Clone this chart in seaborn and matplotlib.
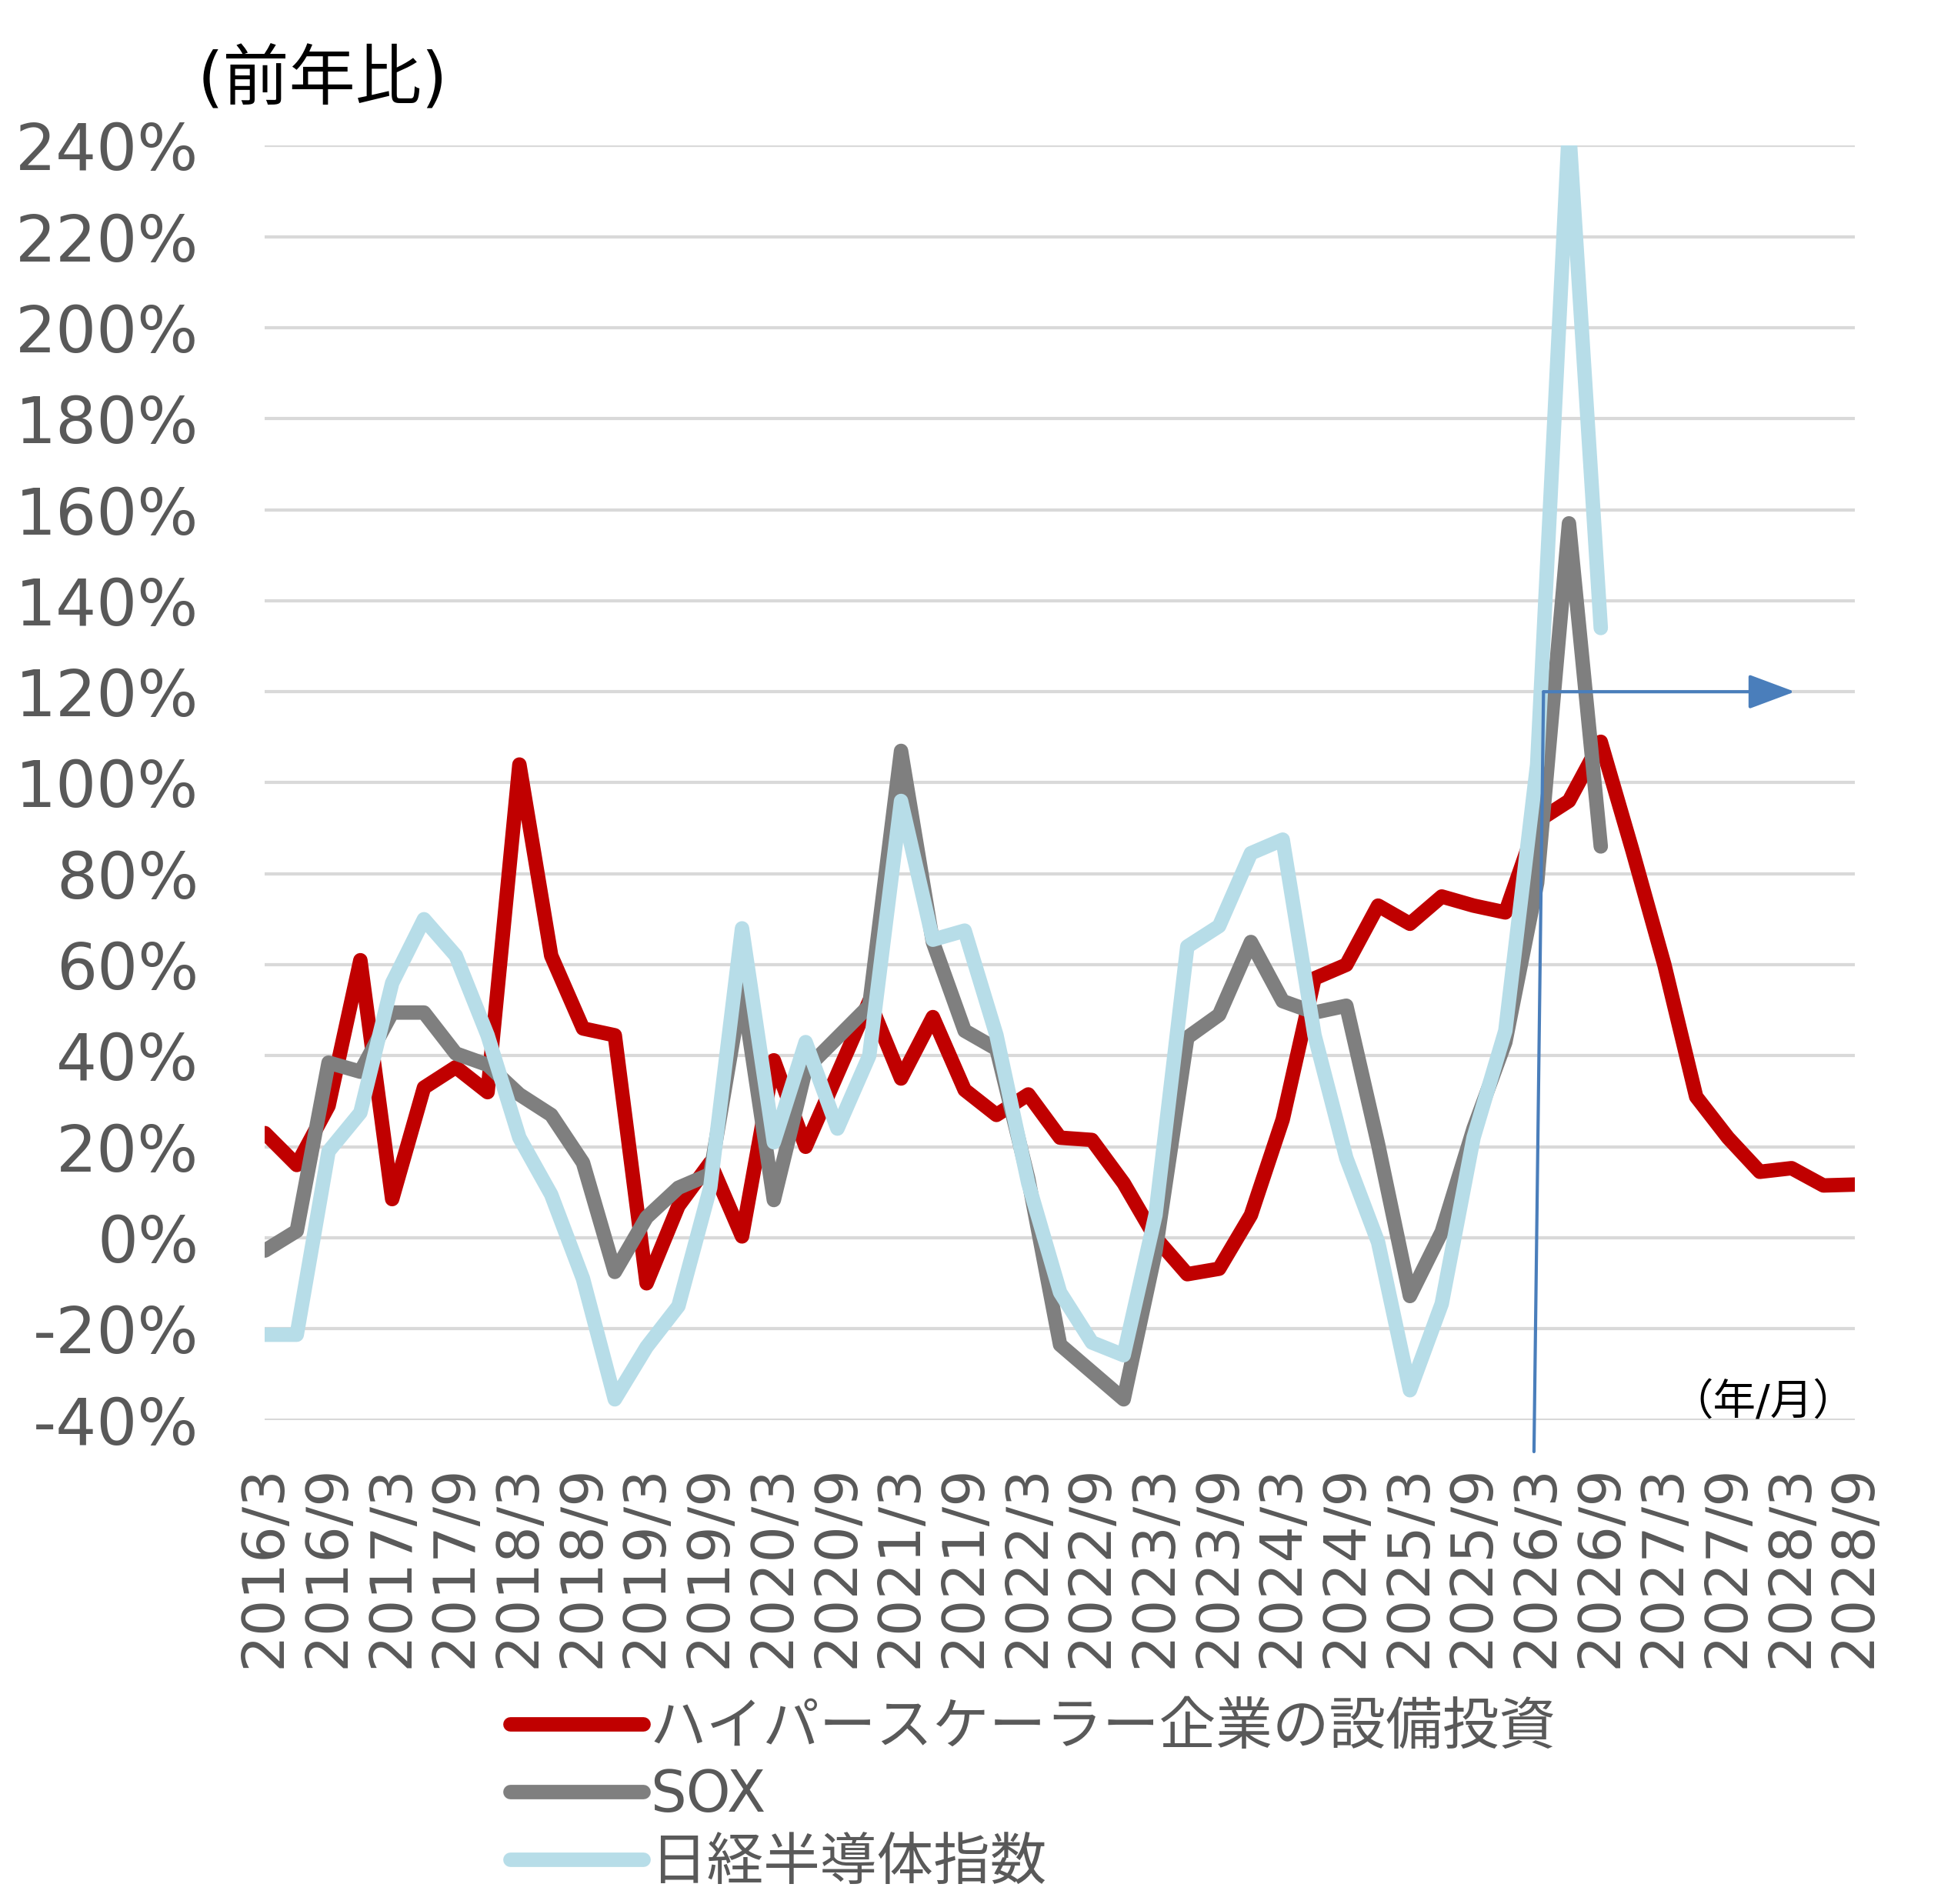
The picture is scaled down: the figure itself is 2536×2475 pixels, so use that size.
import numpy as np
import pandas as pd
import matplotlib
matplotlib.use("Agg")
import matplotlib.pyplot as plt
import seaborn as sns

# ---------------- data ----------------
tick_labels = [f"{y}/{m}" for y in range(2016, 2029) for m in (3, 9)]
quarters = list(range(51))  # quarterly from 2016/3 to 2028/9

capex = [23, 16, 29, 61, 8.5, 33, 37.5, 32, 104, 62, 46, 44.5, -10, 7, 16.5, 0.3,
         39, 20, 36, 52, 35, 48.5, 32.5, 27, 31.5, 22, 21.5, 12, 0, -8, -6.8, 5,
         26, 57, 60, 73, 69, 75, 73, 71.5, 91.5, 96, 109, 85, 60, 31, 22, 14.5,
         15.3, 11.5, 11.7]
sox = [-2.8, 1.5, 38.5, 36.5, 49.5, 49.5, 40.5, 38, 31.5, 27, 16.5, -7.5, 4.5, 11,
       14, 55, 8.3, 37, 44, 51, 107, 65, 45.5, 41.5, 13, -23.5, -29.5, -35.5, -3,
       44, 49, 65, 52, 49.5, 51, 20.5, -12.8, 1.3, 24, 43, 78, 157, 86]
nikkei = [-21.3, -21.3, 19, 27.5, 56, 70, 62, 44.5, 22, 9.5, -9, -35.5, -24, -15,
          11, 68, 21, 43, 24, 40, 96, 65.5, 67.5, 44.5, 12, -12, -23, -25.8, 5,
          64, 68.5, 84.5, 87.5, 44.5, 17.5, -1, -33.5, -14.5, 22, 45.5, 104, 244, 134]

series_names = ["ハイパースケーラー企業の設備投資", "SOX", "日経半導体指数"]
series_values = [capex, sox, nikkei]
series_colors = ["#C00000", "#7F7F7F", "#B7DDE8"]

y_ticks = list(range(-40, 241, 20))
y_tick_labels = [f"{v}%" for v in y_ticks]

# arrow annotation (data coords)
arrow_v_bottom = (39.9, -47)
arrow_corner = (40.2, 120)
arrow_end = (48.1, 120)

# ---------------- style ----------------
sns.set_theme(style="white")
plt.rcParams['font.family'] = ['DejaVu Sans', 'Noto Sans CJK JP']

fig = plt.figure(figsize=(25.36, 24.75), dpi=100)
ax = fig.add_axes([0.1358, 0.2543, 0.8151, 0.6692])

rows = []
for name, vals in zip(series_names, series_values):
    for q, v in zip(quarters, vals):
        rows.append({"q": q, "val": v, "series": name})
df = pd.DataFrame(rows)

LW = 13.5
for name, color in zip(series_names, series_colors):
    sub = df[df["series"] == name]
    sns.lineplot(data=sub, x="q", y="val", color=color, linewidth=LW,
                 ax=ax, label=name, legend=False, sort=True)
    ln = ax.lines[-1]
    ln.set_solid_joinstyle("round")
    ln.set_solid_capstyle("round")
    ln.set_zorder(3)

ax.set_xlim(0, 50)
ax.set_ylim(-40, 240)
ax.set_yticks(y_ticks)
ax.set_yticklabels(y_tick_labels)
ax.set_xticks(quarters[::2])
ax.set_xticklabels(tick_labels, rotation=90)
ax.tick_params(axis="y", length=0, pad=62, labelsize=60, labelcolor="#595959")
ax.tick_params(axis="x", length=0, pad=42, labelsize=54, labelcolor="#595959")
ax.set_xlabel("")
ax.set_ylabel("")
for s in ax.spines.values():
    s.set_visible(False)
ax.grid(axis="y", color="#D9D9D9", linewidth=3)
ax.grid(axis="x", visible=False)
ax.set_axisbelow(True)

# blue arrow annotation
ax.plot([arrow_v_bottom[0], arrow_corner[0]], [arrow_v_bottom[1], arrow_corner[1]],
        color="#4A7EBB", linewidth=3, clip_on=False, zorder=4)
ax.annotate("", xy=arrow_end, xytext=arrow_corner,
            arrowprops=dict(arrowstyle="-|>,head_length=0.75,head_width=0.28",
                            mutation_scale=50, color="#4A7EBB", lw=3,
                            shrinkA=0, shrinkB=0),
            annotation_clip=False, zorder=4)

fig.text(0.1655, 0.9576, "(前年比)", fontsize=62, color="black",
         ha="center", va="center")
fig.text(0.9037, 0.2627, "（年/月）", fontsize=40, color="black",
         ha="center", va="center")

handles, labels = ax.get_legend_handles_labels()
leg = fig.legend(handles, labels, loc="upper left", bbox_to_anchor=(0.2615, 0.107),
                 frameon=False, fontsize=53, handlelength=2.35, handletextpad=0.12,
                 labelspacing=0.2, borderpad=0, borderaxespad=0)
for t in leg.get_texts():
    t.set_color("#595959")
for h in leg.get_lines():
    h.set_linewidth(LW)
    h.set_solid_capstyle("round")

fig.savefig("out.png", dpi=100)
